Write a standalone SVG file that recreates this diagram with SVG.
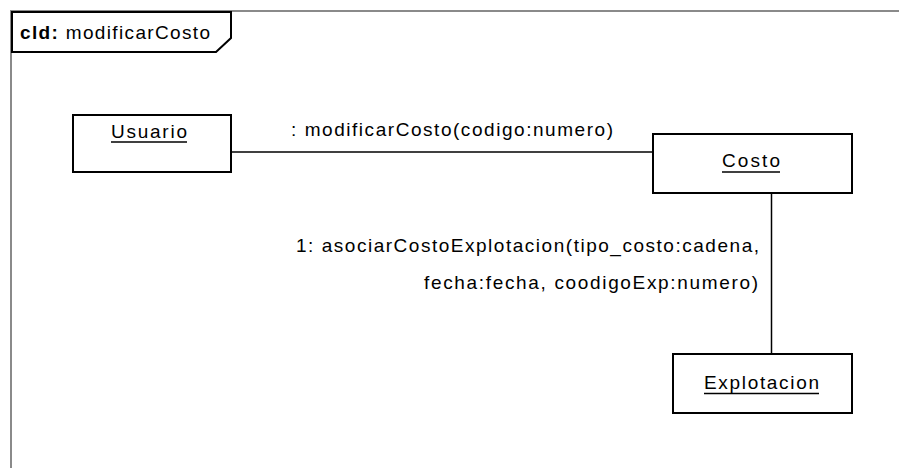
<svg xmlns="http://www.w3.org/2000/svg" width="899" height="468" viewBox="0 0 899 468">
<style>
.frame{fill:none;stroke:#8a8a8a;stroke-width:2}
.box{fill:#fff;stroke:#000;stroke-width:2}
.conn{fill:none;stroke:#000;stroke-width:1.5}
.t{font-family:"Liberation Sans",Arial,sans-serif;font-size:19px;fill:#000}
.ul{stroke:#000;stroke-width:1.5}
</style>
<rect width="899" height="468" fill="#fff"/>
<g id="frame">
<path class="frame" d="M11,468 V11 H899"/>
<path d="M12,12 H231 V38 L216,52 H12 Z" fill="#fff" stroke="#000" stroke-width="2"/>
<text class="t" x="20" y="39" font-size="16" textLength="190" lengthAdjust="spacing"><tspan font-weight="bold">cld:</tspan> modificarCosto</text>
</g>
<g id="connectors">
<line class="conn" x1="231" y1="152" x2="653" y2="152"/>
<line class="conn" x1="771.5" y1="193" x2="771.5" y2="354"/>
<text class="t" x="291" y="136" textLength="322" lengthAdjust="spacing">:  modificarCosto(codigo:numero)</text>
<text class="t" x="296" y="252" textLength="463" lengthAdjust="spacing">1:  asociarCostoExplotacion(tipo_costo:cadena,</text>
<text class="t" x="424" y="289" textLength="334" lengthAdjust="spacing">fecha:fecha, coodigoExp:numero)</text>
</g>
<g id="usuario">
<rect class="box" x="73" y="115" width="158" height="57"/>
<text class="t" x="111" y="138" textLength="76" lengthAdjust="spacing">Usuario</text>
<line class="ul" x1="111" y1="142" x2="187" y2="142"/>
</g>
<g id="costo">
<rect class="box" x="653" y="134" width="199" height="59"/>
<text class="t" x="722" y="167" textLength="58" lengthAdjust="spacing">Costo</text>
<line class="ul" x1="722" y1="172" x2="780" y2="172"/>
</g>
<g id="explotacion">
<rect class="box" x="673" y="354" width="179" height="59"/>
<text class="t" x="704" y="389" textLength="115" lengthAdjust="spacing">Explotacion</text>
<line class="ul" x1="704" y1="393.5" x2="819" y2="393.5"/>
</g>
</svg>
